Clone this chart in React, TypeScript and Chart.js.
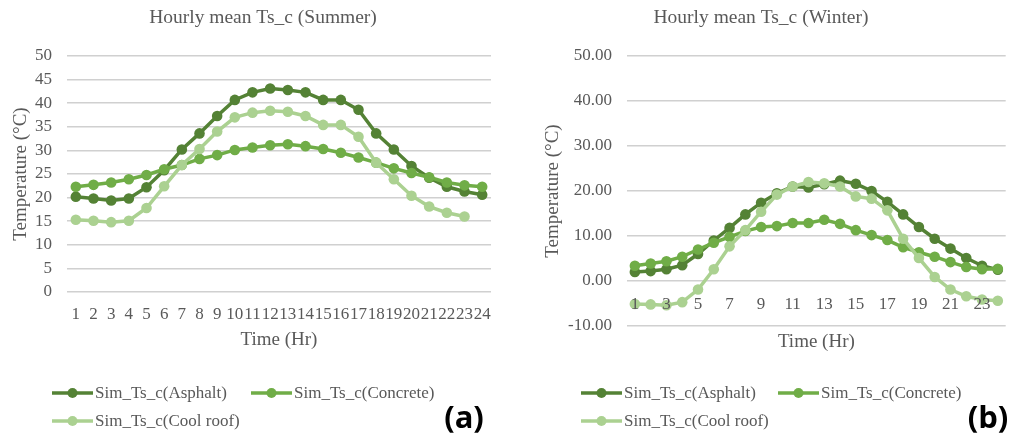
import React, { useEffect, useRef } from "react";
import { Chart, registerables } from "chart.js";

Chart.register(...registerables);

const hourLabels = ["1","2","3","4","5","6","7","8","9","10","11","12","13","14","15","16","17","18","19","20","21","22","23","24"];
const seriesNames = ["Sim_Ts_c(Asphalt)", "Sim_Ts_c(Concrete)", "Sim_Ts_c(Cool roof)"];
const seriesColors = ["#548235", "#70AD47", "#ABD191"];

const summerAsphalt = [20.2, 19.8, 19.4, 19.8, 22.2, 25.8, 30.2, 33.6, 37.3, 40.7, 42.3, 43.1, 42.8, 42.3, 40.7, 40.7, 38.6, 33.6, 30.2, 26.7, 24.2, 22.3, 21.3, 20.6];
const summerConcrete = [22.3, 22.7, 23.2, 23.9, 24.8, 26.0, 26.9, 28.2, 29.0, 30.1, 30.6, 31.1, 31.3, 30.9, 30.3, 29.5, 28.5, 27.4, 26.2, 25.2, 24.3, 23.2, 22.6, 22.3];
const summerCoolRoof = [15.3, 15.1, 14.8, 15.1, 17.8, 22.4, 26.9, 30.3, 34.0, 37.0, 38.0, 38.4, 38.2, 37.3, 35.4, 35.4, 32.9, 27.4, 23.9, 20.4, 18.1, 16.8, 16.0, null];

const winterAsphalt = [2.0, 2.2, 2.6, 3.5, 6.0, 9.0, 11.8, 14.8, 17.4, 19.5, 21.0, 20.8, 21.5, 22.3, 21.6, 20.0, 17.6, 14.8, 12.0, 9.4, 7.2, 5.1, 3.4, 2.5];
const winterConcrete = [3.4, 3.9, 4.4, 5.4, 7.0, 8.5, 9.8, 11.1, 12.0, 12.2, 12.9, 12.9, 13.6, 12.7, 11.3, 10.2, 9.1, 7.5, 6.4, 5.4, 4.2, 3.1, 2.6, 2.7];
const winterCoolRoof = [-5.1, -5.2, -5.4, -4.7, -1.9, 2.6, 7.7, 11.3, 15.4, 19.2, 21.0, 22.0, 21.7, 21.0, 18.8, 18.3, 15.7, 9.4, 5.1, 0.9, -1.9, -3.4, -4.1, -4.4];

const TEXT = "#595959";
const SERIF = "'Liberation Serif', 'Times New Roman', serif";
const GRID = "#d0d0d0";

type PanelCfg = {
  left: number;
  width: number;
  title: string;
  titleX: number;
  panel: string;
  panelX: number;
  legendItems: { x: number; y: number }[];
  data: (number | null)[][];
  winter: boolean;
};

function makeDecor(cfg: PanelCfg) {
  return {
    id: "decor" + cfg.panel,
    afterDraw(chart: any) {
      const ctx = chart.ctx as CanvasRenderingContext2D;
      ctx.save();
      ctx.fillStyle = TEXT;
      ctx.font = `19.5px ${SERIF}`;
      ctx.textAlign = "center";
      ctx.textBaseline = "middle";
      ctx.fillText(cfg.title, cfg.titleX, 18);
      ctx.font = `17px ${SERIF}`;
      ctx.textAlign = "left";
      chart.data.datasets.forEach((ds: any, i: number) => {
        const it = cfg.legendItems[i];
        ctx.strokeStyle = ds.borderColor;
        ctx.lineWidth = 3.5;
        ctx.beginPath();
        ctx.moveTo(it.x, it.y);
        ctx.lineTo(it.x + 41, it.y);
        ctx.stroke();
        ctx.fillStyle = ds.borderColor;
        ctx.beginPath();
        ctx.arc(it.x + 20.5, it.y, 5, 0, Math.PI * 2);
        ctx.fill();
        ctx.fillStyle = TEXT;
        ctx.fillText(ds.label, it.x + 43, it.y + 1);
      });
      ctx.fillStyle = "#000";
      ctx.font = `bold 31px 'Open Sans', 'Liberation Sans', sans-serif`;
      ctx.textAlign = "center";
      ctx.fillText(cfg.panel, cfg.panelX, 419);
      ctx.restore();
    },
  };
}

function Panel({ cfg }: { cfg: PanelCfg }) {
  const ref = useRef<HTMLCanvasElement | null>(null);
  useEffect(() => {
    if (!ref.current) return;
    const datasets = cfg.data.map((d, i) => ({
      label: seriesNames[i],
      data: d,
      borderColor: seriesColors[i],
      backgroundColor: seriesColors[i],
      pointBackgroundColor: seriesColors[i],
      pointBorderColor: seriesColors[i],
      pointBorderWidth: 0,
      pointRadius: 5.3,
      borderWidth: 3.5,
      tension: 0,
      order: 3 - i,
      xAxisID: "x",
    }));
    const scales: any = {
      y: {
        min: cfg.winter ? -10 : 0,
        max: 50,
        ticks: {
          stepSize: cfg.winter ? 10 : 5,
          color: TEXT,
          font: { family: SERIF, size: 17 },
          padding: 15,
          callback: (v: any) => (cfg.winter ? Number(v).toFixed(2) : String(v)),
        },
        grid: { color: GRID, lineWidth: 1.5, drawTicks: false },
        border: { display: false },
        title: {
          display: true,
          text: "Temperature (°C)",
          color: TEXT,
          font: { family: SERIF, size: 19 },
          padding: { top: cfg.winter ? 22 : 10, bottom: 0 },
        },
        afterFit: (s: any) => {
          s.width = cfg.winter ? 107 : 67;
        },
      },
      x: {
        type: "category",
        offset: true,
        grid: { display: false, drawTicks: false },
        border: { display: false },
        ticks: {
          display: !cfg.winter,
          autoSkip: false,
          maxRotation: 0,
          minRotation: 0,
          color: TEXT,
          font: { family: SERIF, size: 17 },
          padding: 12,
        },
        title: {
          display: true,
          text: "Time (Hr)",
          color: TEXT,
          font: { family: SERIF, size: 19 },
          padding: { top: 0, bottom: cfg.winter ? 3 : 5 },
        },
        afterFit: (s: any) => {
          s.height = cfg.winter ? 30 : 64;
        },
      },
    };
    if (cfg.winter) {
      scales.x2 = {
        type: "category",
        labels: hourLabels,
        offset: true,
        position: { y: 0 },
        grid: { display: false, drawTicks: false },
        border: { display: false },
        ticks: {
          z: 1,
          autoSkip: false,
          maxRotation: 0,
          minRotation: 0,
          color: TEXT,
          font: { family: SERIF, size: 17 },
          padding: 13,
          callback: (_v: any, i: number) => (i % 2 === 0 ? hourLabels[i] : ""),
        },
      };
    }
    const chart = new Chart(ref.current, {
      type: "line",
      data: { labels: hourLabels, datasets },
      options: {
        responsive: false,
        animation: false,
        devicePixelRatio: 1,
        layout: { padding: { top: 56, left: 0, right: cfg.winter ? 0 : 29, bottom: 80 } },
        plugins: {
          legend: { display: false },
          title: { display: false },
          tooltip: { enabled: false },
        },
        scales,
      } as any,
      plugins: [makeDecor(cfg)],
    });
    return () => chart.destroy();
  }, [cfg]);
  return (
    <canvas
      ref={ref}
      width={cfg.width}
      height={436}
      style={{ position: "absolute", left: cfg.left, top: 0, width: cfg.width, height: 436 }}
    />
  );
}

const summerCfg: PanelCfg = {
  left: 0,
  width: 520,
  title: "Hourly mean Ts_c (Summer)",
  titleX: 263,
  panel: "(a)",
  panelX: 464,
  legendItems: [
    { x: 52, y: 393 },
    { x: 251, y: 393 },
    { x: 52, y: 421 },
  ],
  data: [summerAsphalt, summerConcrete, summerCoolRoof],
  winter: false,
};

const winterCfg: PanelCfg = {
  left: 520,
  width: 491,
  title: "Hourly mean Ts_c (Winter)",
  titleX: 241,
  panel: "(b)",
  panelX: 468,
  legendItems: [
    { x: 61, y: 393 },
    { x: 258, y: 393 },
    { x: 61, y: 421 },
  ],
  data: [winterAsphalt, winterConcrete, winterCoolRoof],
  winter: true,
};

export default function App() {
  useEffect(() => {
    document.body.style.margin = "0";
    document.body.style.background = "#ffffff";
  }, []);
  return (
    <div style={{ position: "relative", width: 1011, height: 436, overflow: "hidden", background: "#fff" }}>
      <Panel cfg={summerCfg} />
      <Panel cfg={winterCfg} />
    </div>
  );
}
